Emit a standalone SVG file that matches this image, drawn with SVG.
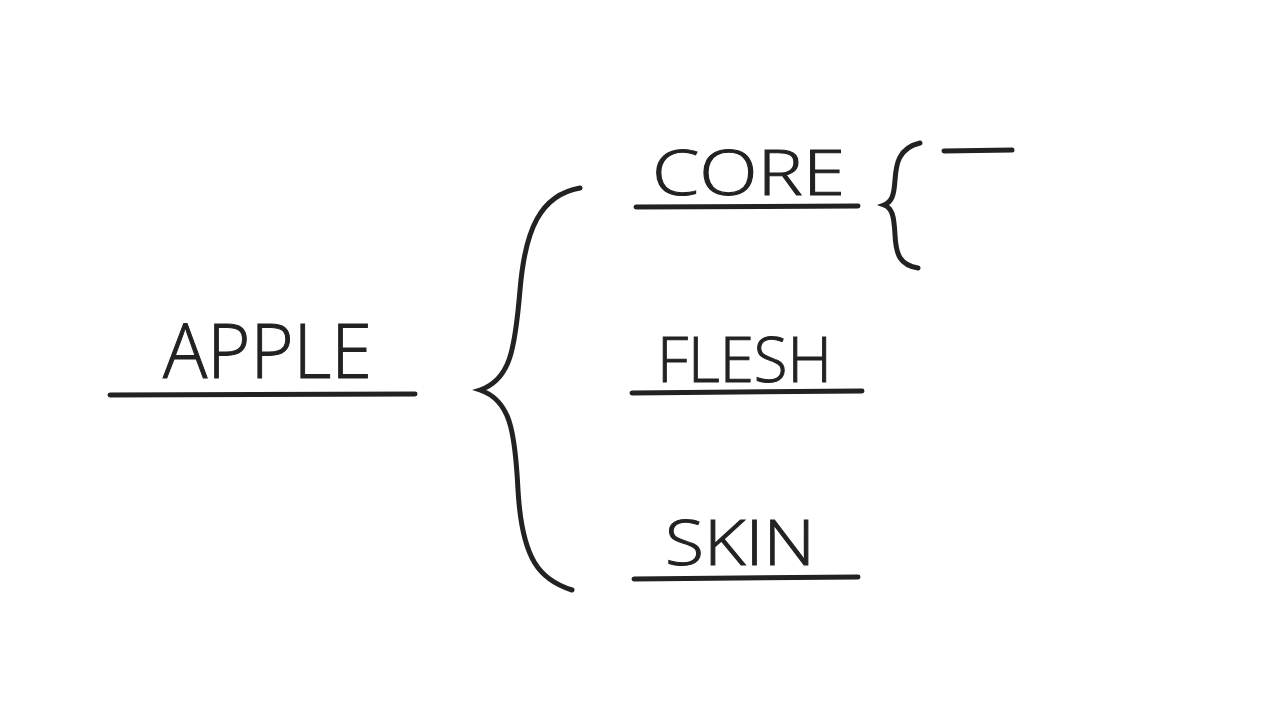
<svg xmlns="http://www.w3.org/2000/svg" width="1280" height="720" viewBox="0 0 1280 720">
<style>
.t{font-family:"Open Sans","Liberation Sans",Arial,sans-serif;font-weight:300;fill:#222;stroke:#222;stroke-width:1}
.l{stroke:#222;stroke-width:5;stroke-linecap:round;fill:none}
</style>
<rect width="1280" height="720" fill="#fff"/>
<g id="apple"><text class="t" x="163" y="378" font-size="76" textLength="209" lengthAdjust="spacingAndGlyphs">APPLE</text><line class="l" x1="110" y1="395" x2="415" y2="394"/></g>
<g id="core"><text class="t" x="652" y="195" font-size="62" textLength="193" lengthAdjust="spacingAndGlyphs">CORE</text><line class="l" x1="636" y1="207" x2="858" y2="206"/></g>
<g id="flesh"><text class="t" x="657" y="382" font-size="62" textLength="175" lengthAdjust="spacingAndGlyphs">FLESH</text><line class="l" x1="632" y1="393" x2="862" y2="391"/></g>
<g id="skin"><text class="t" x="665" y="565" font-size="62" textLength="150" lengthAdjust="spacingAndGlyphs">SKIN</text><line class="l" x1="634" y1="579" x2="858" y2="577"/></g>
<g id="connectors">
<path class="l" d="M580,188 C540,195 525,230 520,290 C515,350 510,380 480,390 C510,400 515,430 518,490 C522,560 540,580 572,590"/>
<path class="l" d="M920,143 C898,148 896,165 895,180 C894,195 892,202 884,205 C892,208 894,215 895,235 C896,255 900,265 918,268"/>
<line class="l" x1="944" y1="151" x2="1012" y2="150"/>
</g>
</svg>
